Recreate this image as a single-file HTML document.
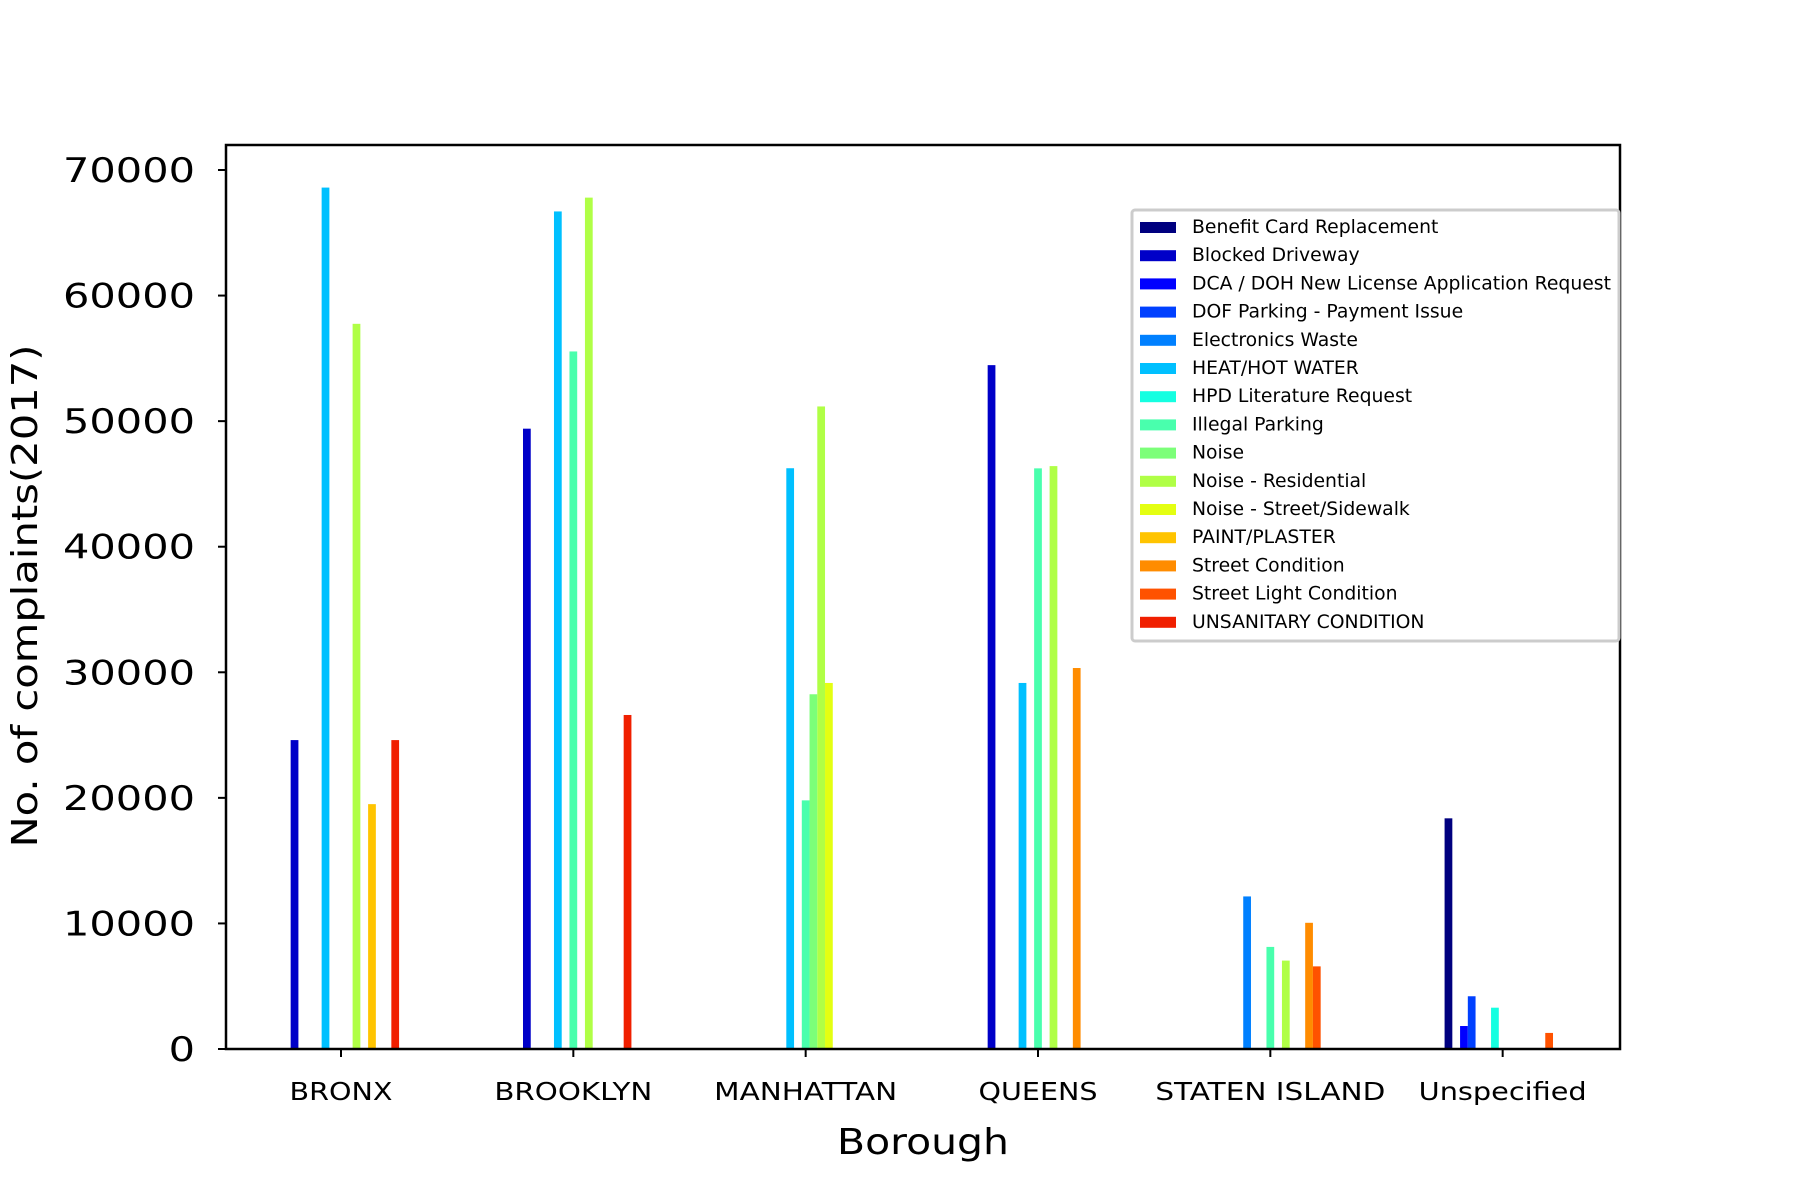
<!DOCTYPE html>
<html><head><meta charset="utf-8"><style>body{margin:0;background:#fff}svg{display:block}text{font-family:"DejaVu Sans","Liberation Sans",sans-serif;fill:#000}</style></head>
<body>
<svg id="chart" width="1800" height="1200" viewBox="0 0 1800 1200" xmlns="http://www.w3.org/2000/svg">
<rect width="1800" height="1200" fill="#fff"/>
<g id="bars"></g>
<g id="axes"></g>
<g id="legend"></g>
</svg>
<script>
const boroughs = ["BRONX","BROOKLYN","MANHATTAN","QUEENS","STATEN ISLAND","Unspecified"];
const boroughLabelWidths = [103,158,183,119,230,168];
const seriesNames = ["Benefit Card Replacement","Blocked Driveway","DCA / DOH New License Application Request","DOF Parking - Payment Issue","Electronics Waste","HEAT/HOT WATER","HPD Literature Request","Illegal Parking","Noise","Noise - Residential","Noise - Street/Sidewalk","PAINT/PLASTER","Street Condition","Street Light Condition","UNSANITARY CONDITION"];
const seriesColors = ["#00007f","#0000c8","#0000ff","#0040ff","#0080ff","#00c0ff","#15ffe1","#49ffad","#7cff79","#b0ff46","#e4ff12","#ffc400","#ff8c00","#ff5200","#f01f00"];
const valBronx = [0,24600,0,0,0,68600,0,0,0,57750,0,19500,0,0,24600];
const valBrooklyn = [0,49400,0,0,0,66700,0,55550,0,67800,0,0,0,0,26600];
const valManhattan = [0,0,0,0,0,46250,0,19800,28250,51170,29150,0,0,0,0];
const valQueens = [0,54460,0,0,0,29150,0,46240,0,46420,0,0,30340,0,0];
const valStaten = [0,0,0,0,12150,0,0,8130,0,7040,0,0,10050,6580,0];
const valUnspecified = [18370,0,1830,4200,0,0,3290,0,0,0,0,0,0,1280,0];
const yTicks = [0,10000,20000,30000,40000,50000,60000,70000];

const NS="http://www.w3.org/2000/svg";
const L=226,R=1620,T=145,B=1049,Y70=170;
const y=v=>B-(v/70000)*(B-Y70);
const step=(R-L)/6;
const xc=i=>341+i*step;
const bw=step/30;
function mk(tag,attrs,parent){const e=document.createElementNS(NS,tag);for(const k in attrs)e.setAttribute(k,attrs[k]);parent.appendChild(e);return e;}
const bars=document.getElementById('bars'),axes=document.getElementById('axes'),leg=document.getElementById('legend');
const all=[valBronx,valBrooklyn,valManhattan,valQueens,valStaten,valUnspecified];
all.forEach((vals,g)=>{vals.forEach((v,s)=>{if(!v)return;
 const r=mk('rect',{x:xc(g)+(s-7.5)*bw,y:y(v),width:bw,height:B-y(v),fill:seriesColors[s]},bars);
 
 });});
const frame=mk('rect',{x:L,y:T,width:R-L,height:B-T,fill:'none',stroke:'#000','stroke-width':2.5},axes);


yTicks.forEach(v=>{mk('line',{x1:L-8,x2:L,y1:y(v),y2:y(v),stroke:'#000','stroke-width':2},axes);
 const t=mk('text',{x:195,y:y(v)+12,'text-anchor':'end','font-size':34,textLength:String(v).length*26.4,lengthAdjust:'spacingAndGlyphs'},axes);t.textContent=v;
 
 });
boroughs.forEach((b,i)=>{mk('line',{x1:xc(i),x2:xc(i),y1:B,y2:B+8,stroke:'#000','stroke-width':2},axes);
 const t=mk('text',{x:xc(i),y:1100,'text-anchor':'middle','font-size':25,textLength:boroughLabelWidths[i],lengthAdjust:'spacingAndGlyphs'},axes);t.textContent=b;
 
 });
const xt=mk('text',{x:923,y:1154,'text-anchor':'middle','font-size':36,textLength:172,lengthAdjust:'spacingAndGlyphs'},axes);xt.textContent='Borough';


const yt=mk('text',{x:0,y:0,'text-anchor':'middle','font-size':36,textLength:503,lengthAdjust:'spacingAndGlyphs',transform:'translate(37,596) rotate(-90)'},axes);yt.textContent='No. of complaints(2017)';


const lb=mk('rect',{x:1132,y:210,width:487,height:431,fill:'#fff',stroke:'#ccc','stroke-width':3,rx:3},leg);


seriesNames.forEach((n,i)=>{const yy=227+i*28.2;
 const p=mk('rect',{x:1140,y:yy-5,width:36,height:11,fill:seriesColors[i]},leg);
 
 
 const t=mk('text',{x:1192,y:yy+6,'font-size':18.8},leg);t.textContent=n;
 
 });
</script>
</body></html>
